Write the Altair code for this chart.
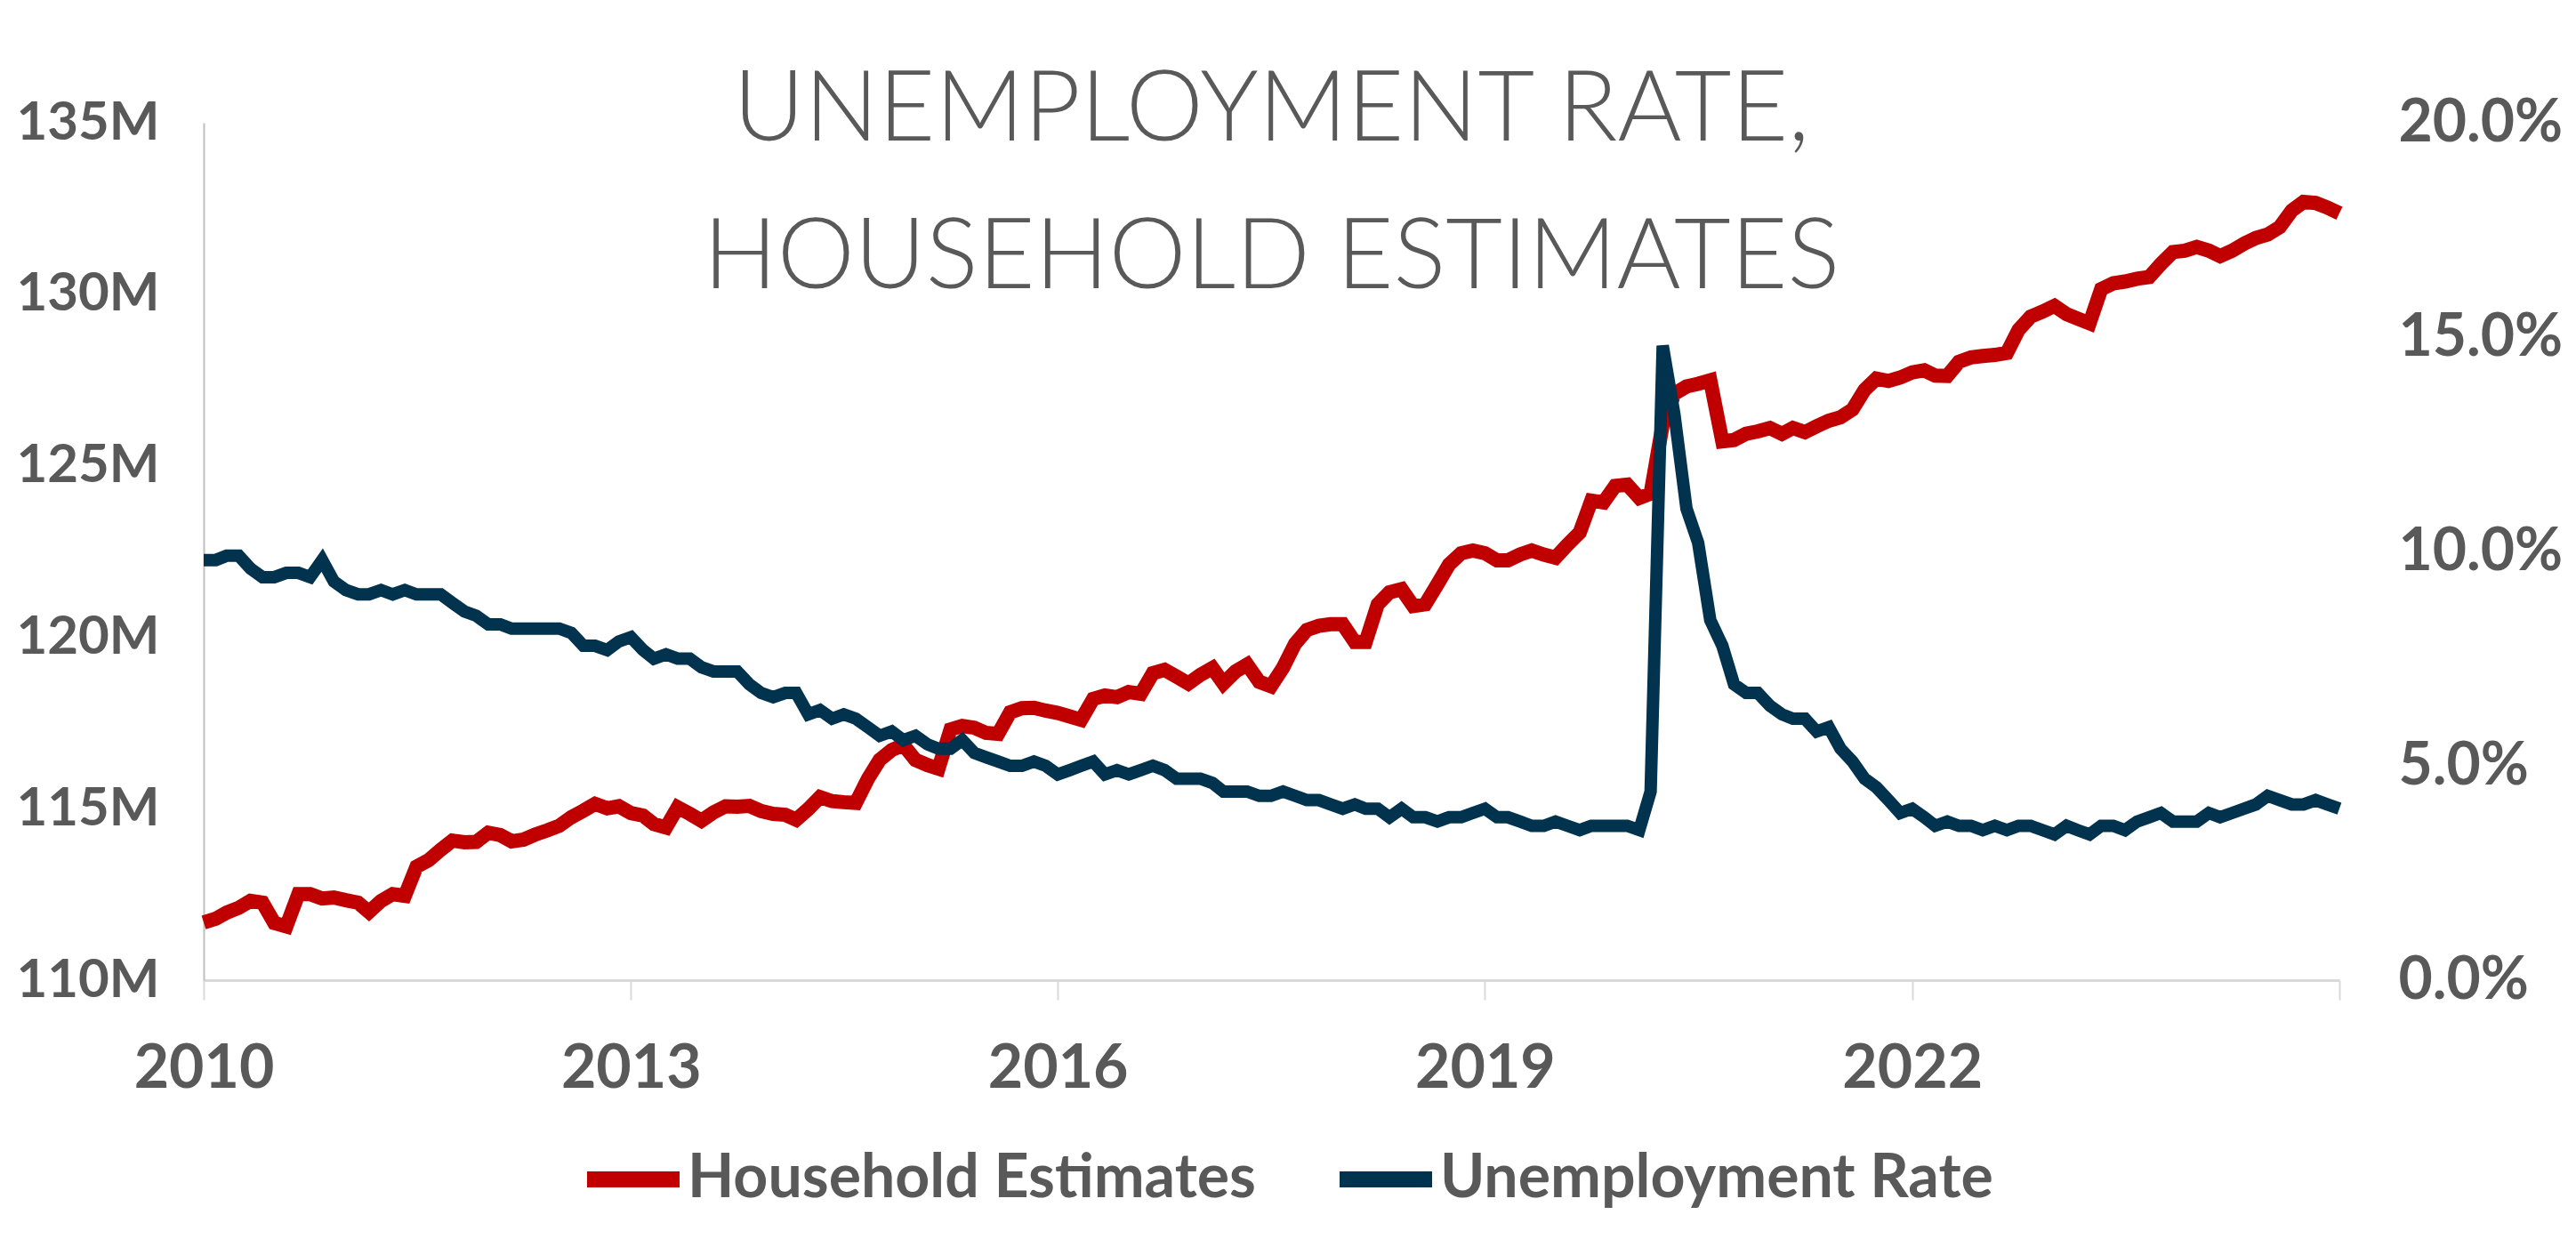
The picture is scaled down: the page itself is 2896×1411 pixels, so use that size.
import altair as alt
import pandas as pd

# ---------------- data ----------------
years = list(range(2010, 2025))
dates = [f"{y}-{m:02d}-01" for y in years for m in range(1, 13)] + ["2025-01-01"]

# Household estimates (millions)
household = [
    111.68, 111.79, 111.97, 112.11, 112.31, 112.26, 111.67, 111.57, 112.51, 112.51,
    112.38, 112.41, 112.33, 112.26, 111.99, 112.31, 112.51, 112.46, 113.31, 113.50,
    113.80, 114.07, 114.02, 114.03, 114.30, 114.23, 114.05, 114.10, 114.25, 114.37,
    114.50, 114.75, 114.94, 115.14, 115.01, 115.07, 114.87, 114.80, 114.55, 114.45,
    115.04, 114.85, 114.65, 114.89, 115.07, 115.06, 115.08, 114.93, 114.85, 114.82,
    114.68, 114.99, 115.34, 115.22, 115.19, 115.17, 115.87, 116.42, 116.71, 116.86,
    116.42, 116.27, 116.17, 117.31, 117.41, 117.36, 117.21, 117.18, 117.81, 117.93,
    117.94, 117.86, 117.79, 117.69, 117.59, 118.20, 118.30, 118.25, 118.40, 118.35,
    118.95, 119.05, 118.85, 118.65, 118.90, 119.10, 118.65, 119.00, 119.20, 118.70,
    118.57, 119.11, 119.81, 120.21, 120.33, 120.38, 120.38, 119.86, 119.86, 120.96,
    121.31, 121.40, 120.91, 120.96, 121.54, 122.12, 122.45, 122.53, 122.45, 122.24,
    122.24, 122.41, 122.53, 122.41, 122.32, 122.70, 123.05, 123.98, 123.93, 124.41,
    124.45, 124.06, 124.19, 126.20, 127.10, 127.31, 127.39, 127.49, 125.71, 125.75,
    125.93, 126.00, 126.10, 125.93, 126.10, 125.98, 126.15, 126.31, 126.41, 126.64,
    127.21, 127.54, 127.47, 127.57, 127.72, 127.78, 127.63, 127.62, 128.03, 128.16,
    128.20, 128.23, 128.29, 128.96, 129.35, 129.49, 129.66, 129.42, 129.29, 129.15,
    130.15, 130.32, 130.37, 130.45, 130.50, 130.88, 131.23, 131.27, 131.38, 131.27,
    131.11, 131.27, 131.47, 131.64, 131.74, 131.96, 132.44, 132.69, 132.66, 132.53,
    132.36,
]

# Unemployment rate (%)
unemployment = [
    9.8, 9.8, 9.9, 9.9, 9.6, 9.4, 9.4, 9.5, 9.5, 9.4, 9.8, 9.3,
    9.1, 9.0, 9.0, 9.1, 9.0, 9.1, 9.0, 9.0, 9.0, 8.8, 8.6, 8.5,
    8.3, 8.3, 8.2, 8.2, 8.2, 8.2, 8.2, 8.1, 7.8, 7.8, 7.7, 7.9,
    8.0, 7.7, 7.5, 7.6, 7.5, 7.5, 7.3, 7.2, 7.2, 7.2, 6.9, 6.7,
    6.6, 6.7, 6.7, 6.2, 6.3, 6.1, 6.2, 6.1, 5.9, 5.7, 5.8, 5.6,
    5.7, 5.5, 5.4, 5.4, 5.6, 5.3, 5.2, 5.1, 5.0, 5.0, 5.1, 5.0,
    4.8, 4.9, 5.0, 5.1, 4.8, 4.9, 4.8, 4.9, 5.0, 4.9, 4.7, 4.7,
    4.7, 4.6, 4.4, 4.4, 4.4, 4.3, 4.3, 4.4, 4.3, 4.2, 4.2, 4.1,
    4.0, 4.1, 4.0, 4.0, 3.8, 4.0, 3.8, 3.8, 3.7, 3.8, 3.8, 3.9,
    4.0, 3.8, 3.8, 3.7, 3.6, 3.6, 3.7, 3.6, 3.5, 3.6, 3.6, 3.6,
    3.6, 3.5, 4.4, 14.8, 13.2, 11.0, 10.2, 8.4, 7.8, 6.9, 6.7, 6.7,
    6.4, 6.2, 6.1, 6.1, 5.8, 5.9, 5.4, 5.1, 4.7, 4.5, 4.2, 3.9,
    4.0, 3.8, 3.6, 3.7, 3.6, 3.6, 3.5, 3.6, 3.5, 3.6, 3.6, 3.5,
    3.4, 3.6, 3.5, 3.4, 3.6, 3.6, 3.5, 3.7, 3.8, 3.9, 3.7, 3.7,
    3.7, 3.9, 3.8, 3.9, 4.0, 4.1, 4.3, 4.2, 4.1, 4.1, 4.2, 4.1,
    4.0,
]

series_names = ["Household Estimates", "Unemployment Rate"]
series_colors = ["#C00000", "#01334E"]
title_lines = ["UNEMPLOYMENT RATE,", "HOUSEHOLD ESTIMATES"]
left_ticks = [110, 115, 120, 125, 130, 135]
right_ticks = [0, 5, 10, 15, 20]
x_tick_years = [2010, 2013, 2016, 2019, 2022, 2025]

assert len(dates) == len(household) == len(unemployment)

hh = pd.DataFrame({"date": dates, "value": household, "series": series_names[0]})
ur = pd.DataFrame({"date": dates, "value": unemployment, "series": series_names[1]})

GRAY = "#595959"
FONT = "Lato"

color = alt.Color(
    "series:N",
    scale=alt.Scale(domain=series_names, range=series_colors),
    legend=alt.Legend(
        title=None,
        orient="none",
        legendX=422,
        legendY=1127,
        direction="horizontal",
        symbolType="stroke",
        symbolStrokeWidth=18,
        symbolSize=10816,
        labelFont=FONT,
        labelFontSize=68,
        labelFontWeight="bold",
        labelColor=GRAY,
        labelOffset=0,
        columnPadding=58,
        labelLimit=1500,
        padding=0,
    ),
)

x = alt.X(
    "date:T",
    scale=alt.Scale(
        type="utc",
        domain=[alt.DateTime(year=2010, month=1, date=1, utc=True),
                alt.DateTime(year=2025, month=1, date=1, utc=True)],
    ),
    axis=alt.Axis(
        title=None,
        values=[alt.DateTime(year=yy, month=1, date=1, utc=True) for yy in x_tick_years],
        labelExpr="utcFormat(datum.value, '%Y') == '2025' ? '' : utcFormat(datum.value, '%Y')",
        grid=False,
        ticks=True,
        tickSize=22,
        tickWidth=2,
        tickColor="#D9D9D9",
        domainColor="#D9D9D9",
        domainWidth=3,
        labelFont=FONT,
        labelFontSize=68,
        labelFontWeight="bold",
        labelColor=GRAY,
        labelPadding=44,
        labelFlush=False,
        labelOverlap=False,
    ),
)

y_left = alt.Y(
    "value:Q",
    scale=alt.Scale(domain=[110, 135], nice=False, zero=False),
    axis=alt.Axis(
        title=None,
        orient="left",
        values=left_ticks,
        labelExpr="datum.value + 'M'",
        grid=False,
        ticks=False,
        tickSize=0,
        domain=True,
        domainColor="#BFBFBF",
        domainWidth=2,
        labelFont=FONT,
        labelFontSize=60,
        labelFontWeight="bold",
        labelColor=GRAY,
        labelPadding=50,
        labelLimit=500,
    ),
)

y_right = alt.Y(
    "value:Q",
    scale=alt.Scale(domain=[0, 20], nice=False, zero=True),
    axis=alt.Axis(
        title=None,
        orient="right",
        values=right_ticks,
        labelExpr="format(datum.value, '.1f') + '%'",
        grid=False,
        ticks=False,
        tickSize=0,
        domain=False,
        labelFont=FONT,
        labelFontSize=66,
        labelFontWeight="bold",
        labelColor=GRAY,
        labelPadding=66,
        labelLimit=500,
    ),
)

red = alt.Chart(hh).mark_line(strokeWidth=16).encode(x=x, y=y_left, color=color)
blue = alt.Chart(ur).mark_line(strokeWidth=14).encode(x=x, y=y_right, color=color)

chart = (
    alt.layer(red, blue)
    .resolve_scale(y="independent")
    .properties(
        width=2401,
        height=964,
        padding={"left": 229, "top": 138, "right": 266, "bottom": 309},
        autosize=alt.AutoSizeParams(type="none"),
        background="white",
        title=alt.TitleParams(
            text=title_lines,
            font=FONT,
            fontWeight=300,
            fontSize=110,
            color=GRAY,
            anchor="middle",
            lineHeight=166,
            offset=-242,
        ),
    )
    .configure_view(stroke="transparent")
)

chart.save("out.html", embed_options={"renderer": "svg", "actions": False})
